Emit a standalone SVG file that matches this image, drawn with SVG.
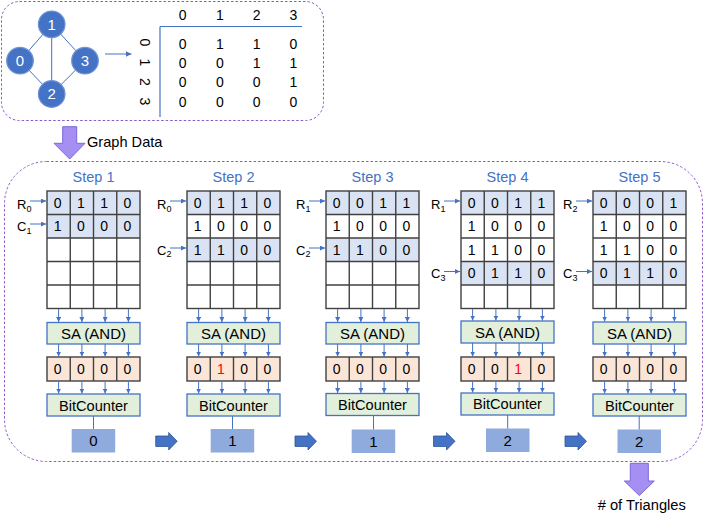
<svg xmlns="http://www.w3.org/2000/svg" width="706" height="523" viewBox="0 0 706 523">
<defs>
<marker id="ah" viewBox="0 0 6 6" refX="6" refY="3" markerWidth="5" markerHeight="5" markerUnits="userSpaceOnUse" orient="auto"><path d="M0,0 L6,3 L0,6 z" fill="#4472C4"/></marker>
<marker id="ah2" viewBox="0 0 6 6" refX="6" refY="3" markerWidth="6" markerHeight="6" markerUnits="userSpaceOnUse" orient="auto"><path d="M0,0 L6,3 L0,6 z" fill="#4472C4"/></marker>
<style>
text{font-family:"Liberation Sans",Arial,sans-serif;fill:#000}
.frame{fill:none;stroke:#8E5CC8;stroke-width:1;stroke-dasharray:2.5 2}
.node circle{fill:#4472C4;stroke:#6F93D6;stroke-width:1.2}
.node text{fill:#fff;font-size:15px;text-anchor:middle}
.edge{stroke:#4472C4;stroke-width:1}
.mx{font-size:14px;text-anchor:middle}
.step{font-size:14.5px;fill:#4472C4;text-anchor:middle}
.hl{fill:#DAE3F3;stroke:none}
.grid{fill:none;stroke:#404040;stroke-width:1.4}
.gl{stroke:#404040;stroke-width:1.4}
.cell{font-size:14px;text-anchor:middle}
.red{fill:#FF0000}
.lbl{font-size:13px}
.sub{font-size:9px}
.box{fill:#E2EFDA;stroke:#4472C4;stroke-width:1.3}
.boxt{font-size:15px;text-anchor:middle}
.res{fill:#FBE5D6;stroke:#404040;stroke-width:1.4}
.cnt{fill:#8FAADC;stroke:none}
.cntt{font-size:15px;text-anchor:middle}
.sa{stroke:#4472C4;stroke-width:1;marker-end:url(#ah)}
.ln{stroke:#4472C4;stroke-width:1}
.blk{fill:#4472C4;stroke:#2F5597;stroke-width:0.8}
.big{fill:#A68FF2;stroke:#7B68D8;stroke-width:1}
</style>
</defs>

<!-- top frame -->
<rect class="frame" x="1.5" y="1.5" width="322" height="119" rx="18"/>
<!-- main frame -->
<rect class="frame" x="4.5" y="161.5" width="698" height="300" rx="42"/>

<g id="graph">
<line class="edge" x1="20" y1="60.7" x2="51.7" y2="24.3"/>
<line class="edge" x1="51.7" y1="24.3" x2="85" y2="60.7"/>
<line class="edge" x1="51.7" y1="24.3" x2="51.7" y2="94"/>
<line class="edge" x1="20" y1="60.7" x2="51.7" y2="94"/>
<line class="edge" x1="85" y1="60.7" x2="51.7" y2="94"/>
<g id="n1" class="node"><circle cx="51.7" cy="24.3" r="13.3"/><text x="51.7" y="29.5">1</text></g>
<g id="n0" class="node"><circle cx="20" cy="60.7" r="13.3"/><text x="20" y="66">0</text></g>
<g id="n3" class="node"><circle cx="85" cy="60.7" r="13.3"/><text x="85" y="66">3</text></g>
<g id="n2" class="node"><circle cx="51.7" cy="94" r="13.3"/><text x="51.7" y="99.3">2</text></g>
</g>

<g id="matrix">
<line x1="160" y1="26.5" x2="302" y2="26.5" stroke="#4472C4" stroke-width="1.2"/>
<line x1="160" y1="26.5" x2="160" y2="117" stroke="#4472C4" stroke-width="1.2"/>
<text class="mx" x="182.7" y="20">0</text><text class="mx" x="220" y="20">1</text><text class="mx" x="256.7" y="20">2</text><text class="mx" x="293.3" y="20">3</text>
<text class="mx" transform="translate(140,42.5) rotate(90)">0</text>
<text class="mx" transform="translate(140,62.5) rotate(90)">1</text>
<text class="mx" transform="translate(140,82) rotate(90)">2</text>
<text class="mx" transform="translate(140,101.5) rotate(90)">3</text>
<g class="mx">
<text x="182.7" y="48.5">0</text><text x="220" y="48.5">1</text><text x="256.7" y="48.5">1</text><text x="293.3" y="48.5">0</text>
<text x="182.7" y="68.3">0</text><text x="220" y="68.3">0</text><text x="256.7" y="68.3">1</text><text x="293.3" y="68.3">1</text>
<text x="182.7" y="87.3">0</text><text x="220" y="87.3">0</text><text x="256.7" y="87.3">0</text><text x="293.3" y="87.3">1</text>
<text x="182.7" y="106.7">0</text><text x="220" y="106.7">0</text><text x="256.7" y="106.7">0</text><text x="293.3" y="106.7">0</text>
</g>
</g>

<g id="graphdata">
<polygon class="big" points="62.7,126.7 76.7,126.7 76.7,143.3 85,143.3 69.7,159 54,143.3 62.7,143.3"/>
<text x="87" y="146.5" style="font-size:14.6px">Graph Data</text>
</g>

<!-- STEP 1 -->
<g id="step1" transform="translate(47,0)">
<text class="step" x="46.5" y="182">Step 1</text>
<rect class="hl" x="0" y="191" width="93" height="47"/>
<rect class="grid" x="0" y="191" width="93" height="117.5"/>
<line class="gl" x1="23.25" y1="191" x2="23.25" y2="308.5"/><line class="gl" x1="46.5" y1="191" x2="46.5" y2="308.5"/><line class="gl" x1="69.75" y1="191" x2="69.75" y2="308.5"/>
<line class="gl" x1="0" y1="214.5" x2="93" y2="214.5"/><line class="gl" x1="0" y1="238" x2="93" y2="238"/><line class="gl" x1="0" y1="261.5" x2="93" y2="261.5"/><line class="gl" x1="0" y1="285" x2="93" y2="285"/>
<g class="cell">
<text x="10.6" y="207.8">0</text><text x="33.9" y="207.8">1</text><text x="57.1" y="207.8">1</text><text x="80.4" y="207.8">0</text>
<text x="10.6" y="231.3">1</text><text x="33.9" y="231.3">0</text><text x="57.1" y="231.3">0</text><text x="80.4" y="231.3">0</text>
</g>
<text class="lbl" x="-30" y="209.3">R<tspan class="sub" dy="2.5">0</tspan></text>
<text class="lbl" x="-30" y="231">C<tspan class="sub" dy="2.5">1</tspan></text>
<rect class="box" x="0" y="322.5" width="93" height="21.5"/><text class="boxt" x="46.5" y="339">SA (AND)</text>
<rect class="res" x="0" y="357" width="93" height="24"/>
<line class="gl" x1="23.25" y1="357" x2="23.25" y2="381"/><line class="gl" x1="46.5" y1="357" x2="46.5" y2="381"/><line class="gl" x1="69.75" y1="357" x2="69.75" y2="381"/>
<g class="cell"><text x="10.6" y="374">0</text><text x="33.9" y="374">0</text><text x="57.1" y="374">0</text><text x="80.4" y="374">0</text></g>
<rect class="box" x="0" y="394" width="93" height="22"/><text class="boxt" x="46.5" y="410.5" style="font-size:14.6px">BitCounter</text>
<rect class="cnt" x="24.7" y="429" width="43.5" height="23.5"/><text class="cntt" x="46.5" y="446">0</text>
</g>

<!-- STEP 2 -->
<g id="step2" transform="translate(187,0)">
<text class="step" x="46.5" y="182">Step 2</text>
<rect class="hl" x="0" y="191" width="93" height="23.5"/>
<rect class="hl" x="0" y="238" width="93" height="23.5"/>
<rect class="grid" x="0" y="191" width="93" height="117.5"/>
<line class="gl" x1="23.25" y1="191" x2="23.25" y2="308.5"/><line class="gl" x1="46.5" y1="191" x2="46.5" y2="308.5"/><line class="gl" x1="69.75" y1="191" x2="69.75" y2="308.5"/>
<line class="gl" x1="0" y1="214.5" x2="93" y2="214.5"/><line class="gl" x1="0" y1="238" x2="93" y2="238"/><line class="gl" x1="0" y1="261.5" x2="93" y2="261.5"/><line class="gl" x1="0" y1="285" x2="93" y2="285"/>
<g class="cell">
<text x="10.6" y="207.8">0</text><text x="33.9" y="207.8">1</text><text x="57.1" y="207.8">1</text><text x="80.4" y="207.8">0</text>
<text x="10.6" y="231.3">1</text><text x="33.9" y="231.3">0</text><text x="57.1" y="231.3">0</text><text x="80.4" y="231.3">0</text>
<text x="10.6" y="254.8">1</text><text x="33.9" y="254.8">1</text><text x="57.1" y="254.8">0</text><text x="80.4" y="254.8">0</text>
</g>
<text class="lbl" x="-30" y="209.3">R<tspan class="sub" dy="2.5">0</tspan></text>
<text class="lbl" x="-30" y="254.5">C<tspan class="sub" dy="2.5">2</tspan></text>
<rect class="box" x="0" y="322.5" width="93" height="21.5"/><text class="boxt" x="46.5" y="339">SA (AND)</text>
<rect class="res" x="0" y="357" width="93" height="24"/>
<line class="gl" x1="23.25" y1="357" x2="23.25" y2="381"/><line class="gl" x1="46.5" y1="357" x2="46.5" y2="381"/><line class="gl" x1="69.75" y1="357" x2="69.75" y2="381"/>
<g class="cell"><text x="10.6" y="374">0</text><text class="red" x="33.9" y="374">1</text><text x="57.1" y="374">0</text><text x="80.4" y="374">0</text></g>
<rect class="box" x="0" y="394" width="93" height="22"/><text class="boxt" x="46.5" y="410.5" style="font-size:14.6px">BitCounter</text>
<rect class="cnt" x="23.7" y="429" width="43.5" height="23.5"/><text class="cntt" x="45.5" y="446">1</text>
</g>

<!-- STEP 3 -->
<g id="step3" transform="translate(326,0)">
<text class="step" x="46.5" y="182">Step 3</text>
<rect class="hl" x="0" y="191" width="93" height="23.5"/>
<rect class="hl" x="0" y="238" width="93" height="23.5"/>
<rect class="grid" x="0" y="191" width="93" height="117.5"/>
<line class="gl" x1="23.25" y1="191" x2="23.25" y2="308.5"/><line class="gl" x1="46.5" y1="191" x2="46.5" y2="308.5"/><line class="gl" x1="69.75" y1="191" x2="69.75" y2="308.5"/>
<line class="gl" x1="0" y1="214.5" x2="93" y2="214.5"/><line class="gl" x1="0" y1="238" x2="93" y2="238"/><line class="gl" x1="0" y1="261.5" x2="93" y2="261.5"/><line class="gl" x1="0" y1="285" x2="93" y2="285"/>
<g class="cell">
<text x="10.6" y="207.8">0</text><text x="33.9" y="207.8">0</text><text x="57.1" y="207.8">1</text><text x="80.4" y="207.8">1</text>
<text x="10.6" y="231.3">1</text><text x="33.9" y="231.3">0</text><text x="57.1" y="231.3">0</text><text x="80.4" y="231.3">0</text>
<text x="10.6" y="254.8">1</text><text x="33.9" y="254.8">1</text><text x="57.1" y="254.8">0</text><text x="80.4" y="254.8">0</text>
</g>
<text class="lbl" x="-30" y="209.3">R<tspan class="sub" dy="2.5">1</tspan></text>
<text class="lbl" x="-30" y="254.5">C<tspan class="sub" dy="2.5">2</tspan></text>
<rect class="box" x="0" y="322.5" width="93" height="21.5"/><text class="boxt" x="46.5" y="339">SA (AND)</text>
<rect class="res" x="0" y="357" width="93" height="24"/>
<line class="gl" x1="23.25" y1="357" x2="23.25" y2="381"/><line class="gl" x1="46.5" y1="357" x2="46.5" y2="381"/><line class="gl" x1="69.75" y1="357" x2="69.75" y2="381"/>
<g class="cell"><text x="10.6" y="374">0</text><text x="33.9" y="374">0</text><text x="57.1" y="374">0</text><text x="80.4" y="374">0</text></g>
<rect class="box" x="0" y="393.5" width="93" height="22"/><text class="boxt" x="46.5" y="410" style="font-size:14.6px">BitCounter</text>
<rect class="cnt" x="25.7" y="429.5" width="43.5" height="23.5"/><text class="cntt" x="47.5" y="446.5">1</text>
</g>

<!-- STEP 4 -->
<g id="step4" transform="translate(461,0)">
<text class="step" x="46.5" y="182">Step 4</text>
<rect class="hl" x="0" y="191" width="93" height="23.5"/>
<rect class="hl" x="0" y="261.5" width="93" height="23.5"/>
<rect class="grid" x="0" y="191" width="93" height="117.5"/>
<line class="gl" x1="23.25" y1="191" x2="23.25" y2="308.5"/><line class="gl" x1="46.5" y1="191" x2="46.5" y2="308.5"/><line class="gl" x1="69.75" y1="191" x2="69.75" y2="308.5"/>
<line class="gl" x1="0" y1="214.5" x2="93" y2="214.5"/><line class="gl" x1="0" y1="238" x2="93" y2="238"/><line class="gl" x1="0" y1="261.5" x2="93" y2="261.5"/><line class="gl" x1="0" y1="285" x2="93" y2="285"/>
<g class="cell">
<text x="10.6" y="207.8">0</text><text x="33.9" y="207.8">0</text><text x="57.1" y="207.8">1</text><text x="80.4" y="207.8">1</text>
<text x="10.6" y="231.3">1</text><text x="33.9" y="231.3">0</text><text x="57.1" y="231.3">0</text><text x="80.4" y="231.3">0</text>
<text x="10.6" y="254.8">1</text><text x="33.9" y="254.8">1</text><text x="57.1" y="254.8">0</text><text x="80.4" y="254.8">0</text>
<text x="10.6" y="278.3">0</text><text x="33.9" y="278.3">1</text><text x="57.1" y="278.3">1</text><text x="80.4" y="278.3">0</text>
</g>
<text class="lbl" x="-30" y="209.3">R<tspan class="sub" dy="2.5">1</tspan></text>
<text class="lbl" x="-30" y="278">C<tspan class="sub" dy="2.5">3</tspan></text>
<rect class="box" x="0" y="321" width="93" height="22"/><text class="boxt" x="46.5" y="337.5">SA (AND)</text>
<rect class="res" x="0" y="357" width="93" height="24"/>
<line class="gl" x1="23.25" y1="357" x2="23.25" y2="381"/><line class="gl" x1="46.5" y1="357" x2="46.5" y2="381"/><line class="gl" x1="69.75" y1="357" x2="69.75" y2="381"/>
<g class="cell"><text x="10.6" y="374">0</text><text x="33.9" y="374">0</text><text class="red" x="57.1" y="374">1</text><text x="80.4" y="374">0</text></g>
<rect class="box" x="0" y="393" width="93" height="22"/><text class="boxt" x="46.5" y="409" style="font-size:14.6px">BitCounter</text>
<rect class="cnt" x="25" y="428.5" width="43.5" height="23.5"/><text class="cntt" x="46.7" y="445.5">2</text>
</g>

<!-- STEP 5 -->
<g id="step5" transform="translate(593,0)">
<text class="step" x="46.5" y="182">Step 5</text>
<rect class="hl" x="0" y="191" width="93" height="23.5"/>
<rect class="hl" x="0" y="261.5" width="93" height="23.5"/>
<rect class="grid" x="0" y="191" width="93" height="117.5"/>
<line class="gl" x1="23.25" y1="191" x2="23.25" y2="308.5"/><line class="gl" x1="46.5" y1="191" x2="46.5" y2="308.5"/><line class="gl" x1="69.75" y1="191" x2="69.75" y2="308.5"/>
<line class="gl" x1="0" y1="214.5" x2="93" y2="214.5"/><line class="gl" x1="0" y1="238" x2="93" y2="238"/><line class="gl" x1="0" y1="261.5" x2="93" y2="261.5"/><line class="gl" x1="0" y1="285" x2="93" y2="285"/>
<g class="cell">
<text x="10.6" y="207.8">0</text><text x="33.9" y="207.8">0</text><text x="57.1" y="207.8">0</text><text x="80.4" y="207.8">1</text>
<text x="10.6" y="231.3">1</text><text x="33.9" y="231.3">0</text><text x="57.1" y="231.3">0</text><text x="80.4" y="231.3">0</text>
<text x="10.6" y="254.8">1</text><text x="33.9" y="254.8">1</text><text x="57.1" y="254.8">0</text><text x="80.4" y="254.8">0</text>
<text x="10.6" y="278.3">0</text><text x="33.9" y="278.3">1</text><text x="57.1" y="278.3">1</text><text x="80.4" y="278.3">0</text>
</g>
<text class="lbl" x="-30" y="209.3">R<tspan class="sub" dy="2.5">2</tspan></text>
<text class="lbl" x="-30" y="278">C<tspan class="sub" dy="2.5">3</tspan></text>
<rect class="box" x="0" y="322" width="93" height="22"/><text class="boxt" x="46.5" y="338.5">SA (AND)</text>
<rect class="res" x="0" y="357" width="93" height="24"/>
<line class="gl" x1="23.25" y1="357" x2="23.25" y2="381"/><line class="gl" x1="46.5" y1="357" x2="46.5" y2="381"/><line class="gl" x1="69.75" y1="357" x2="69.75" y2="381"/>
<g class="cell"><text x="10.6" y="374">0</text><text x="33.9" y="374">0</text><text x="57.1" y="374">0</text><text x="80.4" y="374">0</text></g>
<rect class="box" x="0" y="394" width="93" height="22"/><text class="boxt" x="46.5" y="410.5" style="font-size:14.6px">BitCounter</text>
<rect class="cnt" x="24.5" y="429.5" width="43.5" height="23.5"/><text class="cntt" x="46.2" y="446.5">2</text>
</g>

<g id="result">
<polygon class="big" points="630.3,463.3 648.3,463.3 648.3,481 654.3,481 639.3,495.5 624.3,481 630.3,481"/>
<text x="597.7" y="510" style="font-size:14.7px"># of Triangles</text>
</g>

<!-- connectors -->
<g id="connectors">
<line x1="105" y1="54" x2="131.5" y2="54" stroke="#4472C4" stroke-width="1" marker-end="url(#ah2)"/>
<polygon class="blk" points="155.7,436 168.7,436 168.7,432.5 177.2,441.3 168.7,450 168.7,446.5 155.7,446.5"/>
<polygon class="blk" points="295,436 308,436 308,432.5 316.5,441.3 308,450 308,446.5 295,446.5"/>
<polygon class="blk" points="433.5,436 446.5,436 446.5,432.5 455,441.3 446.5,450 446.5,446.5 433.5,446.5"/>
<polygon class="blk" points="565,436 578,436 578,432.5 586.5,441.3 578,450 578,446.5 565,446.5"/>
<g transform="translate(47,0)">
<line class="sa" x1="-17" y1="201" x2="-1" y2="201"/><line class="sa" x1="-17" y1="224" x2="-1" y2="224"/>
<line class="sa" x1="11.6" y1="309" x2="11.6" y2="322"/><line class="sa" x1="34.9" y1="309" x2="34.9" y2="322"/><line class="sa" x1="58.1" y1="309" x2="58.1" y2="322"/><line class="sa" x1="81.4" y1="309" x2="81.4" y2="322"/>
<line class="sa" x1="11.6" y1="344" x2="11.6" y2="356.5"/><line class="sa" x1="34.9" y1="344" x2="34.9" y2="356.5"/><line class="sa" x1="58.1" y1="344" x2="58.1" y2="356.5"/><line class="sa" x1="81.4" y1="344" x2="81.4" y2="356.5"/>
<line class="sa" x1="11.6" y1="381.5" x2="11.6" y2="393.5"/><line class="sa" x1="34.9" y1="381.5" x2="34.9" y2="393.5"/><line class="sa" x1="58.1" y1="381.5" x2="58.1" y2="393.5"/><line class="sa" x1="81.4" y1="381.5" x2="81.4" y2="393.5"/>
<line class="ln" x1="46.5" y1="416" x2="46.5" y2="429"/>
</g>
<g transform="translate(187,0)">
<line class="sa" x1="-17" y1="201" x2="-1" y2="201"/><line class="sa" x1="-17" y1="248" x2="-1" y2="248"/>
<line class="sa" x1="11.6" y1="309" x2="11.6" y2="322"/><line class="sa" x1="34.9" y1="309" x2="34.9" y2="322"/><line class="sa" x1="58.1" y1="309" x2="58.1" y2="322"/><line class="sa" x1="81.4" y1="309" x2="81.4" y2="322"/>
<line class="sa" x1="11.6" y1="344" x2="11.6" y2="356.5"/><line class="sa" x1="34.9" y1="344" x2="34.9" y2="356.5"/><line class="sa" x1="58.1" y1="344" x2="58.1" y2="356.5"/><line class="sa" x1="81.4" y1="344" x2="81.4" y2="356.5"/>
<line class="sa" x1="11.6" y1="381.5" x2="11.6" y2="393.5"/><line class="sa" x1="34.9" y1="381.5" x2="34.9" y2="393.5"/><line class="sa" x1="58.1" y1="381.5" x2="58.1" y2="393.5"/><line class="sa" x1="81.4" y1="381.5" x2="81.4" y2="393.5"/>
<line class="ln" x1="45.5" y1="416" x2="45.5" y2="429"/>
</g>
<g transform="translate(326,0)">
<line class="sa" x1="-17" y1="201" x2="-1" y2="201"/><line class="sa" x1="-17" y1="248" x2="-1" y2="248"/>
<line class="sa" x1="11.6" y1="309" x2="11.6" y2="322"/><line class="sa" x1="34.9" y1="309" x2="34.9" y2="322"/><line class="sa" x1="58.1" y1="309" x2="58.1" y2="322"/><line class="sa" x1="81.4" y1="309" x2="81.4" y2="322"/>
<line class="sa" x1="11.6" y1="344" x2="11.6" y2="356.5"/><line class="sa" x1="34.9" y1="344" x2="34.9" y2="356.5"/><line class="sa" x1="58.1" y1="344" x2="58.1" y2="356.5"/><line class="sa" x1="81.4" y1="344" x2="81.4" y2="356.5"/>
<line class="sa" x1="11.6" y1="381.5" x2="11.6" y2="393"/><line class="sa" x1="34.9" y1="381.5" x2="34.9" y2="393"/><line class="sa" x1="58.1" y1="381.5" x2="58.1" y2="393"/><line class="sa" x1="81.4" y1="381.5" x2="81.4" y2="393"/>
<line class="ln" x1="47.5" y1="415.5" x2="47.5" y2="429.5"/>
</g>
<g transform="translate(461,0)">
<line class="sa" x1="-17" y1="201" x2="-1" y2="201"/><line class="sa" x1="-17" y1="271.5" x2="-1" y2="271.5"/>
<line class="sa" x1="11.6" y1="309" x2="11.6" y2="320.5"/><line class="sa" x1="34.9" y1="309" x2="34.9" y2="320.5"/><line class="sa" x1="58.1" y1="309" x2="58.1" y2="320.5"/><line class="sa" x1="81.4" y1="309" x2="81.4" y2="320.5"/>
<line class="sa" x1="11.6" y1="343" x2="11.6" y2="356.5"/><line class="sa" x1="34.9" y1="343" x2="34.9" y2="356.5"/><line class="sa" x1="58.1" y1="343" x2="58.1" y2="356.5"/><line class="sa" x1="81.4" y1="343" x2="81.4" y2="356.5"/>
<line class="sa" x1="11.6" y1="381.5" x2="11.6" y2="392.5"/><line class="sa" x1="34.9" y1="381.5" x2="34.9" y2="392.5"/><line class="sa" x1="58.1" y1="381.5" x2="58.1" y2="392.5"/><line class="sa" x1="81.4" y1="381.5" x2="81.4" y2="392.5"/>
<line class="ln" x1="46.7" y1="415" x2="46.7" y2="428.5"/>
</g>
<g transform="translate(593,0)">
<line class="sa" x1="-17" y1="201" x2="-1" y2="201"/><line class="sa" x1="-17" y1="271.5" x2="-1" y2="271.5"/>
<line class="sa" x1="11.6" y1="309" x2="11.6" y2="321.5"/><line class="sa" x1="34.9" y1="309" x2="34.9" y2="321.5"/><line class="sa" x1="58.1" y1="309" x2="58.1" y2="321.5"/><line class="sa" x1="81.4" y1="309" x2="81.4" y2="321.5"/>
<line class="sa" x1="11.6" y1="344" x2="11.6" y2="356.5"/><line class="sa" x1="34.9" y1="344" x2="34.9" y2="356.5"/><line class="sa" x1="58.1" y1="344" x2="58.1" y2="356.5"/><line class="sa" x1="81.4" y1="344" x2="81.4" y2="356.5"/>
<line class="sa" x1="11.6" y1="381.5" x2="11.6" y2="393.5"/><line class="sa" x1="34.9" y1="381.5" x2="34.9" y2="393.5"/><line class="sa" x1="58.1" y1="381.5" x2="58.1" y2="393.5"/><line class="sa" x1="81.4" y1="381.5" x2="81.4" y2="393.5"/>
<line class="ln" x1="46.2" y1="416" x2="46.2" y2="429.5"/>
</g>
</g>
</svg>
